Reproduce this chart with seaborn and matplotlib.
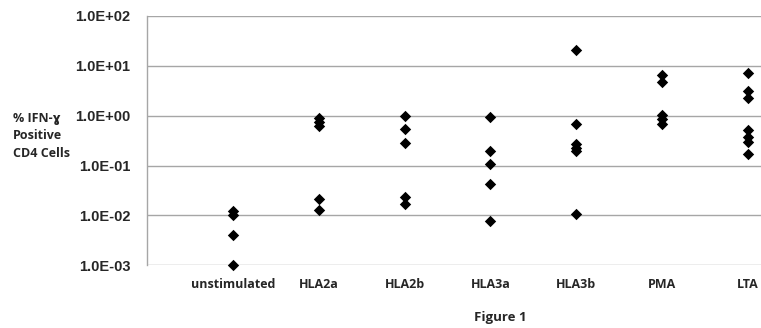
import matplotlib
matplotlib.use("Agg")
import matplotlib.pyplot as plt
import seaborn as sns
import pandas as pd
import numpy as np

categories = ["unstimulated", "HLA2a", "HLA2b", "HLA3a", "HLA3b", "PMA", "LTA"]
unstimulated = [0.012, 0.010, 0.004, 0.001]
hla2a = [0.88, 0.75, 0.63, 0.021, 0.0127]
hla2b = [0.98, 0.53, 0.286, 0.023, 0.0168]
hla3a = [0.925, 0.197, 0.110, 0.0424, 0.0078]
hla3b = [20.7, 0.68, 0.27, 0.23, 0.20, 0.0109]
pma = [6.5, 4.8, 1.03, 0.84, 0.67]
lta = [7.06, 3.17, 2.22, 0.51, 0.377, 0.30, 0.17]
ytick_labels = ["1.0E-03", "1.0E-02", "1.0E-01", "1.0E+00", "1.0E+01", "1.0E+02"]

series = [unstimulated, hla2a, hla2b, hla3a, hla3b, pma, lta]
rows = []
for cat, vals in zip(categories, series):
    for v in vals:
        rows.append({"group": cat, "value": v})
df = pd.DataFrame(rows)

sns.set_theme(style="white")
plt.rcParams['font.family'] = ['Liberation Sans', 'DejaVu Sans']

fig = plt.figure(figsize=(7.61, 3.28), dpi=100)
ax = fig.add_axes([147/761, 1 - 265.3/328, 1 - 147/761, (265.3 - 16)/328])

sns.stripplot(data=df, x="group", y="value", order=categories, jitter=False,
              color="black", marker="D", size=5.8, linewidth=0, ax=ax, zorder=3)
for c in ax.collections:
    c.set_clip_on(False)

ax.set_yscale("log")
ax.set_ylim(1e-3, 1e2)
ax.set_xlim(-1.0, 6.15)
yt = [1e-3, 1e-2, 1e-1, 1e0, 1e1, 1e2]
ax.set_yticks(yt)
ax.set_yticklabels(ytick_labels, fontsize=10.5, fontweight="bold",
                   family=['Liberation Sans', 'DejaVu Sans'])
ax.yaxis.set_minor_locator(matplotlib.ticker.NullLocator())
ax.tick_params(axis="y", length=0, pad=12)
ax.tick_params(axis="x", length=0, pad=9)
for lbl in ax.get_xticklabels():
    lbl.set_fontsize(9)
    lbl.set_fontweight("bold")
    lbl.set_family(['Open Sans', 'DejaVu Sans'])
ax.set_xlabel("")
ax.set_ylabel("")
for y in yt:
    ax.axhline(y, color="#a6a6a6", linewidth=1.0, zorder=1)
for s in ["top", "right", "bottom"]:
    ax.spines[s].set_visible(False)
ax.spines["left"].set_color("#a6a6a6")
ax.spines["left"].set_linewidth(1.0)
ax.set_facecolor("white")

fig.text(13/761, 1 - 136/328, "% IFN-ɣ\nPositive\nCD4 Cells", ha="left", va="center",
         fontsize=9, fontweight="bold", linespacing=1.45,
         family=['Open Sans', 'DejaVu Sans'])
fig.text(500/761, 1 - 318/328, "Figure 1", ha="center", va="center",
         fontsize=9.5, fontweight="bold", family=['Open Sans', 'DejaVu Sans'])

fig.savefig("out.png", dpi=100, facecolor="white")
